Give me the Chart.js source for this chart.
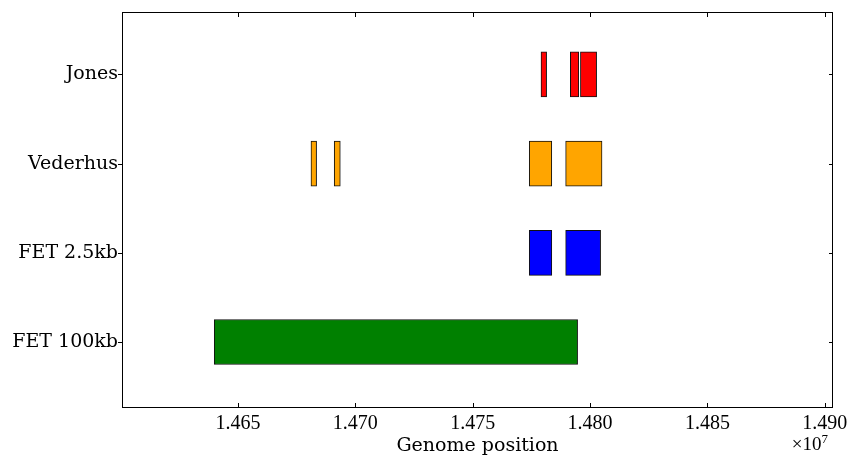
<!DOCTYPE html>
<html>
<head>
<meta charset="utf-8">
<script src="https://cdn.jsdelivr.net/npm/chart.js@4.4.1/dist/chart.umd.min.js"></script>
<style>
  html, body { margin: 0; background: #fff; }
  #wrap { width: 849px; height: 457px; }
</style>
</head>
<body>
<div id="wrap"><canvas id="genomeChart"></canvas></div>
<script>
// rows, top to bottom
const categories = ['Jones', 'Vederhus', 'FET 2.5kb', 'FET 100kb'];

// [start, end] genome positions for each row
const jonesRegions = [[14779100, 14781500], [14791600, 14795200], [14795900, 14802800]];
const vederhusRegions = [[14681100, 14683500], [14691000, 14693600], [14774100, 14783700], [14789600, 14805100]];
const fet25Regions = [[14774100, 14783700], [14789600, 14804500]];
const fet100Regions = [[14639900, 14794700]];

const xTicks = [14650000, 14700000, 14750000, 14800000, 14850000, 14900000];
const regionColors = ['#ff0000', '#ffa500', '#0000ff', '#008000'];

const allRegions = [jonesRegions, vederhusRegions, fet25Regions, fet100Regions];

const datasets = allRegions.map((regions, i) => ({
  label: categories[i],
  data: regions.map(r => ({ x: r, y: i })),
  backgroundColor: regionColors[i],
  borderColor: '#111',
  borderWidth: 1,
  borderSkipped: false,
  barThickness: 45,
  grouped: false
}));

// box round the plot, matplotlib style ticks
const framePlugin = {
  id: 'frame',
  afterDraw(chart) {
    const { ctx, chartArea: a, scales: { x, y } } = chart;
    ctx.save();
    ctx.strokeStyle = '#000';
    ctx.lineWidth = 1;
    ctx.strokeRect(a.left + 0.5, a.top + 0.5, a.right - a.left - 1, a.bottom - a.top - 1);
    ctx.beginPath();
    xTicks.forEach(v => {
      const px = Math.round(x.getPixelForValue(v)) + 0.5;
      ctx.moveTo(px, a.bottom); ctx.lineTo(px, a.bottom - 5);
      ctx.moveTo(px, a.top); ctx.lineTo(px, a.top + 5);
    });
    categories.forEach((c, i) => {
      const py = Math.round(y.getPixelForValue(i)) + 0.5;
      ctx.moveTo(a.left - 4, py); ctx.lineTo(a.left, py);
      ctx.moveTo(a.right - 4, py); ctx.lineTo(a.right, py);
    });
    ctx.stroke();

    // offset label
    ctx.fillStyle = '#000';
    ctx.textBaseline = 'alphabetic';
    ctx.textAlign = 'right';
    ctx.font = '13px "Liberation Serif"';
    ctx.fillText('7', a.right - 5, 443);
    const w = ctx.measureText('7').width;
    ctx.font = '19px "Liberation Serif"';
    ctx.fillText('\u00d710', a.right - 5 - w, 450);
    ctx.restore();
  }
};

new Chart(document.getElementById('genomeChart'), {
  type: 'bar',
  data: { datasets: datasets },
  options: {
    indexAxis: 'y',
    responsive: true,
    maintainAspectRatio: false,
    animation: false,
    layout: { autoPadding: false, padding: { top: 12, right: 16, left: 0, bottom: 0 } },
    plugins: { legend: { display: false }, tooltip: { enabled: false } },
    scales: {
      x: {
        type: 'linear',
        min: 14600600,
        max: 14903500,
        afterBuildTicks: s => { s.ticks = xTicks.map(v => ({ value: v })); },
        afterFit: s => { s.height = 49; s.paddingLeft = 0; s.paddingRight = 0; },
        grid: { display: false, drawTicks: false },
        border: { display: false },
        ticks: {
          autoSkip: false,
          maxRotation: 0,
          padding: 4,
          color: '#000',
          font: { family: 'Liberation Serif', size: 20 },
          callback: v => (v / 1e7).toFixed(3)
        },
        title: {
          display: true,
          text: 'Genome position',
          color: '#000',
          padding: { top: 0, bottom: 0 },
          font: { family: 'DejaVu Serif', size: 19 }
        }
      },
      y: {
        type: 'linear',
        reverse: true,
        offset: false,
        min: -0.70,
        max: 3.74,
        afterBuildTicks: s => { s.ticks = categories.map((c, i) => ({ value: i })); },
        afterFit: s => { s.width = 122; s.paddingTop = 0; s.paddingBottom = 0; },
        grid: { display: false, drawTicks: false, offset: false },
        border: { display: false },
        ticks: {
          autoSkip: false,
          padding: 4,
          color: '#000',
          font: { family: 'DejaVu Serif', size: 19 },
          callback: v => categories[v]
        }
      }
    }
  },
  plugins: [framePlugin]
});
</script>
</body>
</html>
